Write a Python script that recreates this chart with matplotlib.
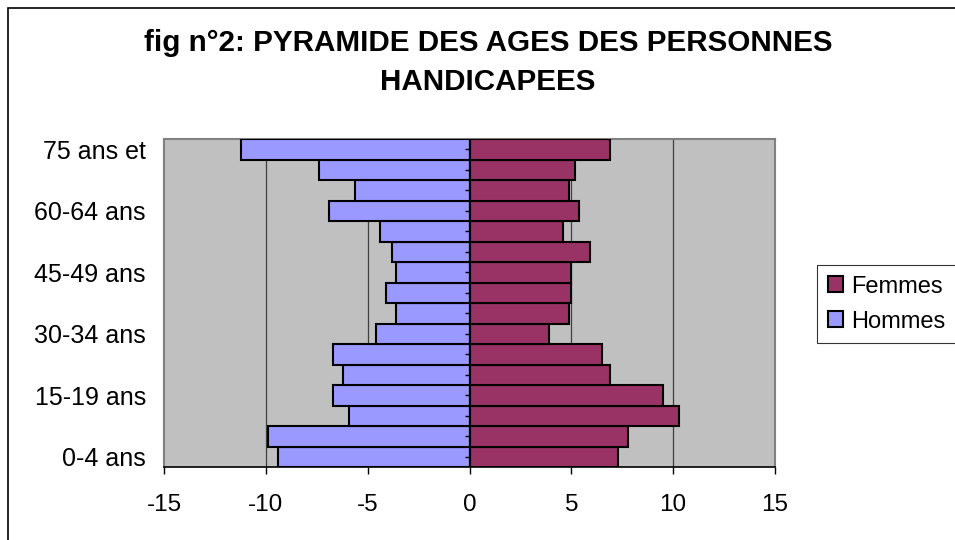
import numpy as np
import matplotlib
matplotlib.use('Agg')
import matplotlib.pyplot as plt
from matplotlib.patches import Rectangle

plt.rcParams['font.family'] = ['Liberation Sans', 'DejaVu Sans']

# Classes d'age, de 0-4 ans a 75 ans et +
ages = ['0-4 ans', '5-9 ans', '10-14 ans', '15-19 ans', '20-24 ans', '25-29 ans',
        '30-34 ans', '35-39 ans', '40-44 ans', '45-49 ans', '50-54 ans', '55-59 ans',
        '60-64 ans', '65-69 ans', '70-74 ans', '75 ans et']
hommes = [-9.4, -9.9, -5.9, -6.7, -6.2, -6.7, -4.6, -3.6,
          -4.1, -3.6, -3.8, -4.4, -6.9, -5.6, -7.4, -11.2]
femmes = [7.3, 7.8, 10.3, 9.5, 6.9, 6.5, 3.9, 4.9,
          5.0, 5.0, 5.9, 4.6, 5.4, 4.9, 5.2, 6.9]
xticks = [-15, -10, -5, 0, 5, 10, 15]

fig = plt.figure(figsize=(9.55, 5.4), dpi=100)
ax = fig.add_axes([164/955, 1-467/540, (775-164)/955, (467-139)/540])
ax.set_facecolor('#C0C0C0')

y = np.arange(len(ages))
b_h = ax.barh(y, hommes, height=1.0, color='#9999FF', edgecolor='black', linewidth=1.5, zorder=3, label='Hommes')
b_f = ax.barh(y, femmes, height=1.0, color='#993366', edgecolor='black', linewidth=1.5, zorder=3, label='Femmes')

# grille verticale
for v in [-10, -5, 5, 10]:
    ax.axvline(v, color='#404040', lw=0.9, zorder=1)
ax.axvline(0, color='black', lw=1.5, zorder=4)
# petites graduations sur l'axe des categories
ax.hlines(y, -0.22, 0, color='black', lw=1, zorder=5)

ax.set_xlim(-15, 15)
ax.set_ylim(-0.5, len(ages) - 0.5)
ax.set_xticks(xticks)
ax.set_xticklabels([str(t) for t in xticks], fontsize=17.5)
ax.set_yticks(y[::3])
ax.set_yticklabels(ages[::3], fontsize=18)
ax.tick_params(axis='y', length=0, pad=13)
ax.tick_params(axis='x', length=5, width=1, color='black', pad=14.5)

for side in ['left', 'top', 'right']:
    ax.spines[side].set_color('#808080')
    ax.spines[side].set_linewidth(1.5)
ax.spines['bottom'].set_color('black')
ax.spines['bottom'].set_linewidth(1.2)

fig.text(488/955, 1-43/540, 'fig n°2: PYRAMIDE DES AGES DES PERSONNES', ha='center', va='center',
         fontsize=21.3, fontweight='bold')
fig.text(488/955, 1-82/540, 'HANDICAPEES', ha='center', va='center',
         fontsize=21.3, fontweight='bold')

leg = fig.legend([b_f, b_h], ['Femmes', 'Hommes'], loc='upper left',
                 bbox_to_anchor=(817/955, 1-265/540), fontsize=17, frameon=True,
                 fancybox=False, handlelength=0.65, handleheight=0.65, handletextpad=0.35,
                 borderpad=0.45, labelspacing=0.55, borderaxespad=0)
leg.get_frame().set_edgecolor('black')
leg.get_frame().set_linewidth(0.8)

# cadre du graphique (coupe a droite et en bas)
fig.patches.append(Rectangle((8/955, -0.05), 1.0, 1.05 - 8/540, transform=fig.transFigure,
                             fill=False, edgecolor='black', lw=1.2))

fig.savefig('out.png', dpi=100)
